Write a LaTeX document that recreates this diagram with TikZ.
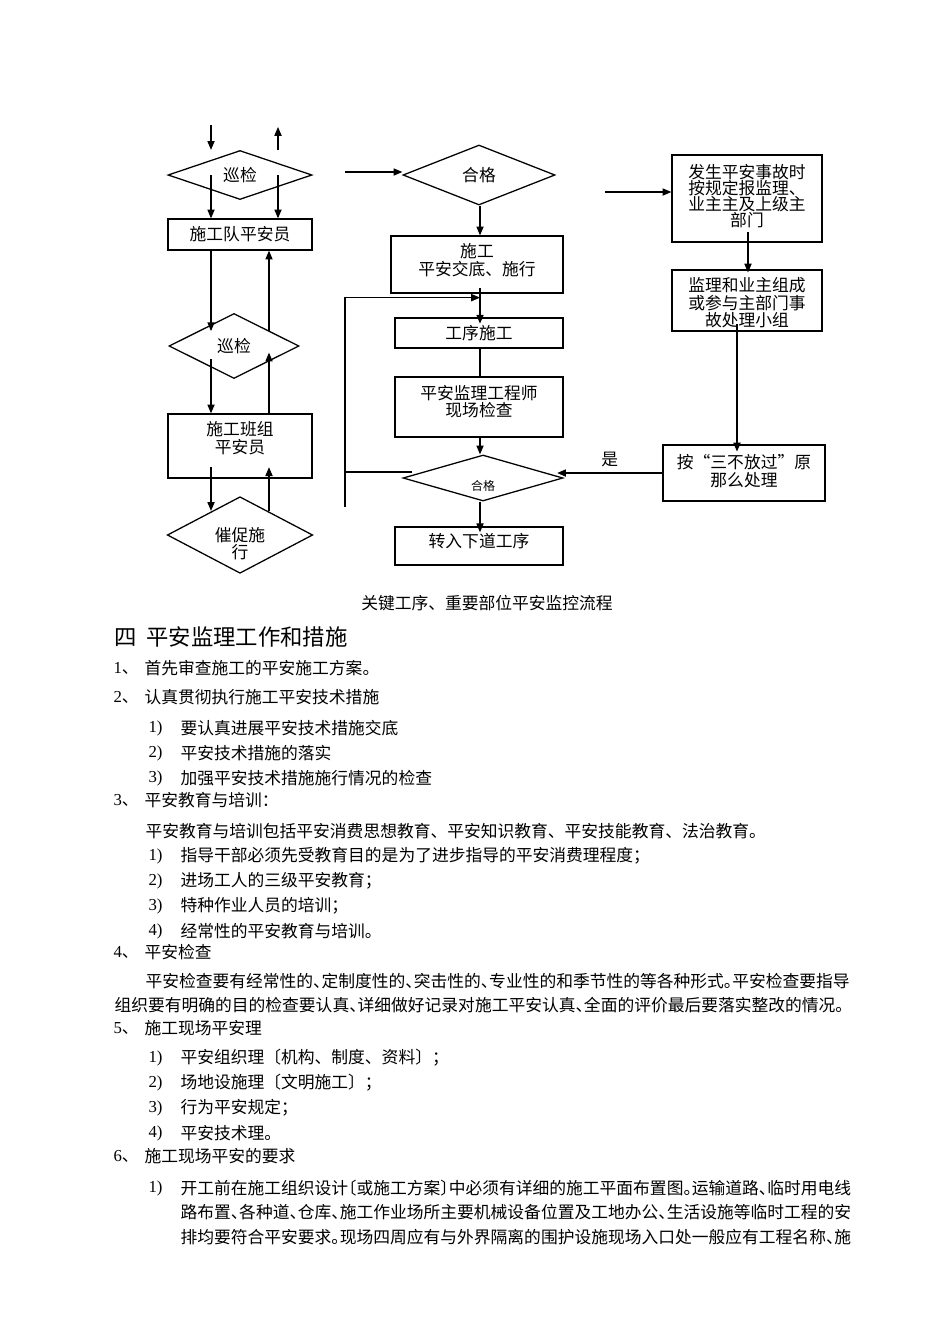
\documentclass[tikz,border=0pt]{standalone}
\usepackage{fontspec}
\setmainfont{Noto Sans CJK SC}
\newfontfamily\numfont{Liberation Serif}
\usetikzlibrary{calc}
\usetikzlibrary{positioning}
\usetikzlibrary{shapes.geometric}
\usetikzlibrary{arrows.meta}
\XeTeXlinebreaklocale "zh"
\XeTeXlinebreakskip=0pt plus 1pt
\lineskiplimit=-5pt
\newdimen\pxu \pxu=0.6263pt
\newcommand{\flowfont}{\fontsize{10.5pt}{11pt}\selectfont}
\newcommand{\bodyfont}{\fontsize{10.5pt}{12pt}\selectfont}
\newcommand{\hp}[1]{\makebox[0.5em][l]{#1}}
\newcommand{\hpr}[1]{\makebox[0.5em][r]{#1}}
\tikzstyle{boxnode} = [draw, rectangle, line width=0.8pt, align=center, inner sep=0pt, font=\flowfont]
\tikzstyle{decnode} = [draw, diamond, line width=0.8pt, align=center, inner sep=0pt, font=\flowfont]
\tikzstyle{txtnode} = [anchor=west, inner sep=0pt, font=\bodyfont]

\begin{document}
\begin{tikzpicture}[x=0.6263pt, y=-0.6263pt, line width=0.7pt, >={Triangle[length=5.5pt,width=4.5pt]}]
  \useasboundingbox (0,0) rectangle (950,1344);

  % left column
  \node[decnode, minimum width=144*\pxu, minimum height=44*\pxu] (xj1) at (240,175) {巡检};
  \node[boxnode, minimum width=144*\pxu, minimum height=31*\pxu] (sgd) at (240,234.5) {施工队平安员};
  \node[decnode, minimum width=130*\pxu, minimum height=65*\pxu] (xj2) at (234,346) {巡检};
  \node[boxnode, minimum width=144*\pxu, minimum height=64*\pxu] (bzd) at (240,446) {施工班组\\平安员\rule[-10.4pt]{0pt}{0pt}};
  \node[decnode, aspect=1.9, minimum width=144*\pxu, minimum height=74*\pxu] (cc) at (240,535) {\rule{0pt}{19.5pt}催促施\\行};

  % middle column
  \node[decnode, minimum width=152*\pxu, minimum height=60*\pxu] (hg1) at (479,175) {合格};
  \node[boxnode, minimum width=172*\pxu, minimum height=57*\pxu] (jd) at (477,264.5) {施工\\平安交底、施行\rule[-6pt]{0pt}{0pt}};
  \node[boxnode, minimum width=168*\pxu, minimum height=30*\pxu] (gx) at (479,333) {工序施工};
  \node[boxnode, minimum width=168*\pxu, minimum height=60*\pxu] (jc) at (479,407) {平安监理工程师\\现场检查\rule[-7.8pt]{0pt}{0pt}};
  \node[decnode, aspect=3.5, minimum width=160*\pxu, minimum height=46*\pxu, font=\fontsize{7.5pt}{8pt}\selectfont] (hg2) at (483,478) {\rule{0pt}{16.4pt}合格};
  \node[boxnode, minimum width=168*\pxu, minimum height=38*\pxu] (zr) at (479,546) {转入下道工序\rule[-7.2pt]{0pt}{0pt}};

  % right column
  \node[boxnode, minimum width=150*\pxu, minimum height=87*\pxu, font=\fontsize{10.5pt}{10pt}\selectfont] (bs) at (747,198.5) {发生平安事故时\\按规定报监理、\\业主主及上级主\\部门\rule[-4.2pt]{0pt}{0pt}};
  \node[boxnode, minimum width=150*\pxu, minimum height=61*\pxu] (zc) at (747,300.5) {\rule{0pt}{11.6pt}监理和业主组成\\或参与主部门事\\故处理小组};
  \node[boxnode, minimum width=162*\pxu, minimum height=56*\pxu] (an) at (744,473) {按“三不放过”原\\那么处理\rule[-3.5pt]{0pt}{0pt}};

  % helper coordinates
  \coordinate (cl) at (211,0);
  \coordinate (cr) at (278,0);
  \coordinate (cm) at (269,0);
  \coordinate (cc3) at (480,0);
  \coordinate (cc4) at (748,0);
  \coordinate (cc5) at (737,0);
  \coordinate (in1) at (211,125);
  \coordinate (out1) at (278,127);
  \coordinate (in2) at (345,172);
  \coordinate (in3) at (605,192);
  \coordinate (lp1) at (345,507);
  \coordinate (lp2) at (412,472);
  \coordinate (xj2a) at ($(xj2.north)!.55!(xj2.center)$);
  \coordinate (xj2b) at ($(xj2.center)!.4!(xj2.south)$);
  \coordinate (xj2c) at ($(xj2.center)!.2!(xj2.south)$);
  \coordinate (bzdi) at ($(bzd.center)!.65!(bzd.south)$);
  \coordinate (cce) at ($(cc.north)!.38!(cc.center)$);
  \coordinate (jdi) at ($(jd.center)!.8!(jd.south)$);
  \coordinate (jdb) at ($(jd.south)+(0,4)$);
  \coordinate (gxi) at ($(gx.north)!.4!(gx.center)$);
  \coordinate (zri) at ($(zr.north)!.3!(zr.center)$);
  \coordinate (hg2r) at ($(hg2.east)!.08!(hg2.north)$);
  \coordinate (bsi) at ($(bs.center)!.77!(bs.south)$);
  \coordinate (zci) at ($(zc.north)!.1!(zc.center)$);
  \coordinate (zco) at ($(zc.center)!.75!(zc.south)$);
  \coordinate (ani) at ($(an.north)!.25!(an.center)$);

  \draw[->] (in1) -- (in1 |- xj1.north);
  \draw[->] (cr |- xj1.north) -- (out1);
  \draw[->] (cl |- xj1) -- (cl |- sgd.north);
  \draw[->] (cr |- xj1) -- (cr |- sgd.north);
  \draw[->] (cl |- sgd.south) -- (cl |- xj2a);
  \draw[->] (cm |- xj2a) -- (cm |- sgd.south);
  \draw[->] (cl |- xj2b) -- (cl |- bzd.north);
  \draw[->] (cm |- bzd.north) -- (cm |- xj2c);
  \draw[->] (cl |- bzdi) -- (cl |- cce);
  \draw[->] (cm |- cce) -- (cm |- bzdi);

  \draw[->] (in2) -- (in2 -| hg1.west);
  \draw[->] (cc3 |- hg1.south) -- (cc3 |- jd.north);
  \draw[->] (cc3 |- jdi) -- (cc3 |- gxi);
  \draw (cc3 |- gx.south) -- (cc3 |- jc.north);
  \draw[->] (cc3 |- jc.south) -- (cc3 |- hg2.north);
  \draw[->] (cc3 |- hg2.south) -- (cc3 |- zri);
  \draw[->] (lp1) |- (cc3 |- jdb);
  \draw (lp2) -- (lp1 |- lp2);

  \draw[->] (in3) -- (in3 -| bs.west);
  \draw[->] (cc4 |- bsi) -- (cc4 |- zci);
  \draw[->] (cc5 |- zco) -- (cc5 |- ani);
  \draw[->] (an.west) -- node[above, font=\flowfont] (yes) {是} (an.west -| hg2r);

  % caption and text
  \node[inner sep=0pt, font=\bodyfont] (cap) at (487,603) {关键工序、重要部位平安监控流程};
  \node[txtnode, font=\fontsize{14pt}{16pt}\selectfont] (hd) at (114,637) {四\hspace{6pt}平安监理工作和措施};

  \node[txtnode] (n1) at (113,668) {{\numfont 1}、};
  \node[txtnode] (t1) at (144,668) {首先审查施工的平安施工方案。};
  \node[txtnode] (n2) at (113,697) {{\numfont 2}、};
  \node[txtnode] (t2) at (144,697) {认真贯彻执行施工平安技术措施};
  \node[txtnode] (n2a) at (148,728) {{\numfont 1)}};
  \node[txtnode] (t2a) at (180,728) {要认真进展平安技术措施交底};
  \node[txtnode] (n2b) at (148,753) {{\numfont 2)}};
  \node[txtnode] (t2b) at (180,753) {平安技术措施的落实};
  \node[txtnode] (n2c) at (148,778) {{\numfont 3)}};
  \node[txtnode] (t2c) at (180,778) {加强平安技术措施施行情况的检查};

  \node[txtnode] (n3) at (113,800) {{\numfont 3}、};
  \node[txtnode] (t3) at (144,800) {平安教育与培训：};
  \node[txtnode] (t3p) at (145,831) {平安教育与培训包括平安消费思想教育、平安知识教育、平安技能教育、法治教育。};
  \node[txtnode] (n3a) at (148,856) {{\numfont 1)}};
  \node[txtnode] (t3a) at (180,856) {指导干部必须先受教育目的是为了进步指导的平安消费理程度；};
  \node[txtnode] (n3b) at (148,881) {{\numfont 2)}};
  \node[txtnode] (t3b) at (180,881) {进场工人的三级平安教育；};
  \node[txtnode] (n3c) at (148,906) {{\numfont 3)}};
  \node[txtnode] (t3c) at (180,906) {特种作业人员的培训；};
  \node[txtnode] (n3d) at (148,931) {{\numfont 4)}};
  \node[txtnode] (t3d) at (180,931) {经常性的平安教育与培训。};

  \node[txtnode] (n4) at (113,952) {{\numfont 4}、};
  \node[txtnode] (t4) at (144,952) {平安检查};
  \node[txtnode] (t4a) at (145,981) {\makebox[712\pxu][s]{平安检查要有经常性的\hp{、}定制度性的\hp{、}突击性的\hp{、}专业性的和季节性的等各种形式\hp{。}平安检查要指导}};
  \node[txtnode] (t4b) at (114,1005) {\makebox[743\pxu][s]{组织要有明确的目的检查要认真\hp{、}详细做好记录对施工平安认真\hp{、}全面的评价最后要落实整改的情况\hp{。}}};

  \node[txtnode] (n5) at (113,1028) {{\numfont 5}、};
  \node[txtnode] (t5) at (144,1028) {施工现场平安理};
  \node[txtnode] (n5a) at (148,1058) {{\numfont 1)}};
  \node[txtnode] (t5a) at (180,1058) {平安组织理〔机构、制度、资料〕；};
  \node[txtnode] (n5b) at (148,1083) {{\numfont 2)}};
  \node[txtnode] (t5b) at (180,1083) {场地设施理〔文明施工〕；};
  \node[txtnode] (n5c) at (148,1108) {{\numfont 3)}};
  \node[txtnode] (t5c) at (180,1108) {行为平安规定；};
  \node[txtnode] (n5d) at (148,1133) {{\numfont 4)}};
  \node[txtnode] (t5d) at (180,1133) {平安技术理。};

  \node[txtnode] (n6) at (113,1156) {{\numfont 6}、};
  \node[txtnode] (t6) at (144,1156) {施工现场平安的要求};
  \node[txtnode] (n6a) at (148,1188) {{\numfont 1)}};
  \node[txtnode] (t6a) at (180,1188) {\makebox[677\pxu][s]{开工前在施工组织设计\hpr{〔}或施工方案\hp{〕}中必须有详细的施工平面布置图\hp{。}运输道路\hp{、}临时用电线}};
  \node[txtnode] (t6b) at (180,1212) {\makebox[677\pxu][s]{路布置\hp{、}各种道\hp{、}仓库\hp{、}施工作业场所主要机械设备位置及工地办公\hp{、}生活设施等临时工程的安}};
  \node[txtnode] (t6c) at (180,1237) {\makebox[677\pxu][s]{排均要符合平安要求\hp{。}现场四周应有与外界隔离的围护设施现场入口处一般应有工程名称\hp{、}施}};
\end{tikzpicture}
\end{document}
